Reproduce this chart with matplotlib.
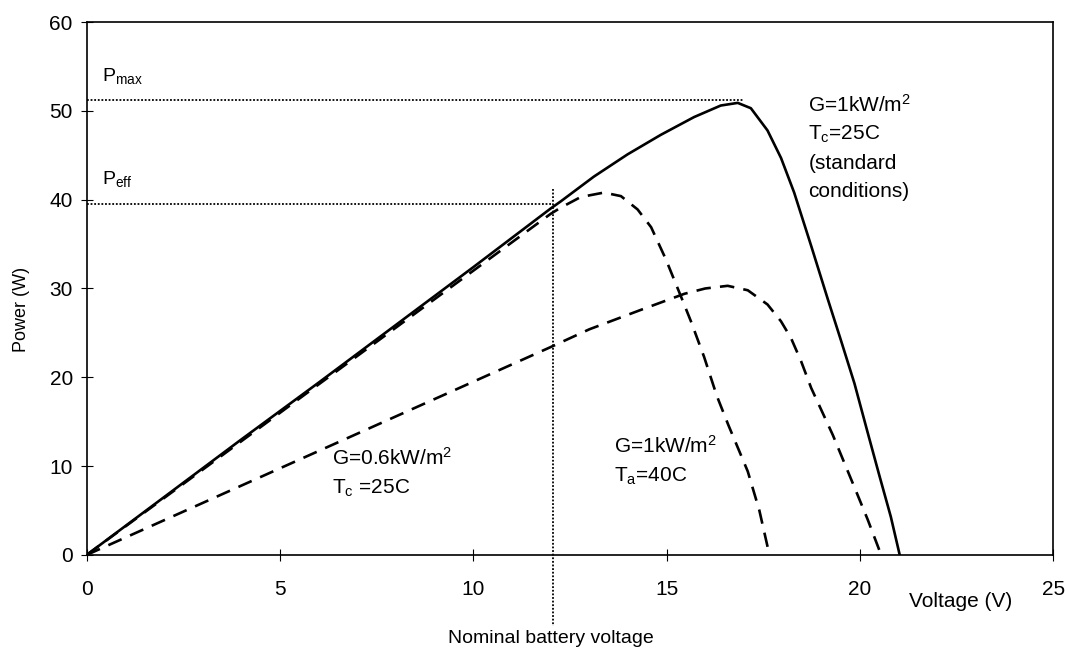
import numpy as np
import matplotlib
matplotlib.use('Agg')
import matplotlib.pyplot as plt
from matplotlib import font_manager

# fonts: Arial-like, narrow variant for the x-axis texts if it is there
names = set(f.name for f in font_manager.fontManager.ttflist)
base = 'Liberation Sans'
narrow = 'Liberation Sans Narrow' if 'Liberation Sans Narrow' in names else base
plt.rcParams['font.family'] = [base, 'DejaVu Sans']
plt.rcParams['mathtext.fontset'] = 'custom'
plt.rcParams['mathtext.rm'] = base
plt.rcParams['mathtext.it'] = base

# data
# G=1kW/m2, Tc=25C (standard conditions)
v_std = [0, 2, 4, 6, 8, 10, 12, 12.26, 13.12, 13.99, 14.85, 15.71, 16.4, 16.84, 17.18,
         17.61, 17.96, 18.3, 18.74, 19.17, 19.5, 19.86, 20.2, 20.5, 20.8, 21.03]
p_std = [0, 6.5, 13.0, 19.4, 25.9, 32.4, 39.0, 39.8, 42.6, 45.1, 47.3, 49.3, 50.6, 50.9, 50.3,
         47.8, 44.7, 40.8, 34.8, 28.8, 24.3, 19.3, 13.8, 9.0, 4.3, 0]

# G=1kW/m2, Ta=40C
v_hot = [0, 2, 4, 6, 8, 10, 12, 12.26, 12.78, 13.38, 13.82, 14.25, 14.6, 14.98, 15.4,
         15.63, 15.97, 16.3, 16.6, 17.1, 17.4, 17.66]
p_hot = [0, 6.4, 12.8, 19.2, 25.6, 32.0, 38.4, 39.1, 40.3, 40.8, 40.4, 38.9, 36.9, 33.3, 28.8,
         26.3, 22.3, 17.9, 14.6, 9.4, 5.0, 0]

# G=0.6kW/m2, Tc=25C
v_low = [0, 2, 4, 6, 8, 10, 12, 13, 14.34, 15.46, 16.0, 16.58, 17.1, 17.61, 17.96, 18.22, 18.48,
         18.74, 19.3, 19.87, 20.2, 20.55]
p_low = [0, 3.9, 7.8, 11.7, 15.6, 19.5, 23.4, 25.4, 27.6, 29.4, 30.0, 30.3, 29.8, 28.2, 26.3, 24.4,
         21.8, 18.8, 13.5, 7.5, 4.0, 0]

p_max = 51.2
p_eff = 39.5
v_pmax = 17.0
v_nom = 12.05

x_ticks = [0, 5, 10, 15, 20, 25]
y_ticks = [0, 10, 20, 30, 40, 50, 60]

fig = plt.figure(figsize=(10.65, 6.49), dpi=100)
ax = fig.add_axes([0.0814, 0.145, 0.9075, 0.821])

ax.plot(v_std, p_std, color='black', lw=1.9, solid_joinstyle='round')
ax.plot(v_hot, p_hot, color='black', lw=1.9, linestyle=(0, (5.5, 3.5)))
ax.plot(v_low, p_low, color='black', lw=1.9, linestyle=(0, (5.5, 3.5)))

# dotted guide lines
ax.plot([0, v_pmax], [p_max, p_max], color='black', lw=1.3, linestyle=(0, (1, 1)))
ax.plot([0, v_nom], [p_eff, p_eff], color='black', lw=1.3, linestyle=(0, (1, 1)))
ax.plot([v_nom, v_nom], [41.2, -8.0], color='black', lw=1.3, linestyle=(0, (1, 1)), clip_on=False)

ax.set_xlim(0, 25)
ax.set_ylim(0, 60)
ax.set_xticks(x_ticks)
ax.set_yticks(y_ticks)
ax.set_xticklabels([str(t) for t in x_ticks], fontsize=15, family=narrow)
ax.set_yticklabels([str(t) for t in y_ticks], fontsize=15)
ax.tick_params(axis='x', direction='inout', length=8, width=0.8, pad=14)
ax.tick_params(axis='y', direction='inout', length=8, width=0.8, pad=6)
for s in ax.spines.values():
    s.set_linewidth(1.2)

ax.set_ylabel('Power (W)', fontsize=13)
ax.yaxis.set_label_coords(-0.059, 0.46)

# labels
ax.text(0.4, 53.4, r'P$_\mathrm{max}$', fontsize=14, va='baseline')
ax.text(0.4, 41.8, r'P$_\mathrm{eff}$', fontsize=14, va='baseline')

ax.text(18.67, 49.9, r'G=1kW/m$^\mathrm{2}$', fontsize=15, va='baseline')
ax.text(18.67, 46.7, r'T$_\mathrm{c}$=25C', fontsize=15, va='baseline')
ax.text(18.67, 43.5, '(standard', fontsize=15, va='baseline')
ax.text(18.67, 40.3, 'conditions)', fontsize=15, va='baseline')

ax.text(13.64, 11.45, r'G=1kW/m$^\mathrm{2}$', fontsize=15, va='baseline')
ax.text(13.64, 8.25, r'T$_\mathrm{a}$=40C', fontsize=15, va='baseline')

ax.text(6.35, 10.2, r'G=0.6kW/m$^\mathrm{2}$', fontsize=15, va='baseline')
ax.text(6.35, 6.9, r'T$_\mathrm{c}$ =25C', fontsize=15, va='baseline')

ax.text(12.0, -9.4, 'Nominal battery voltage', fontsize=14, family=narrow,
        ha='center', va='center', clip_on=False)
ax.text(22.6, -5.3, 'Voltage (V)', fontsize=15, family=narrow,
        ha='center', va='center', clip_on=False)

fig.savefig('out.png', dpi=100)
